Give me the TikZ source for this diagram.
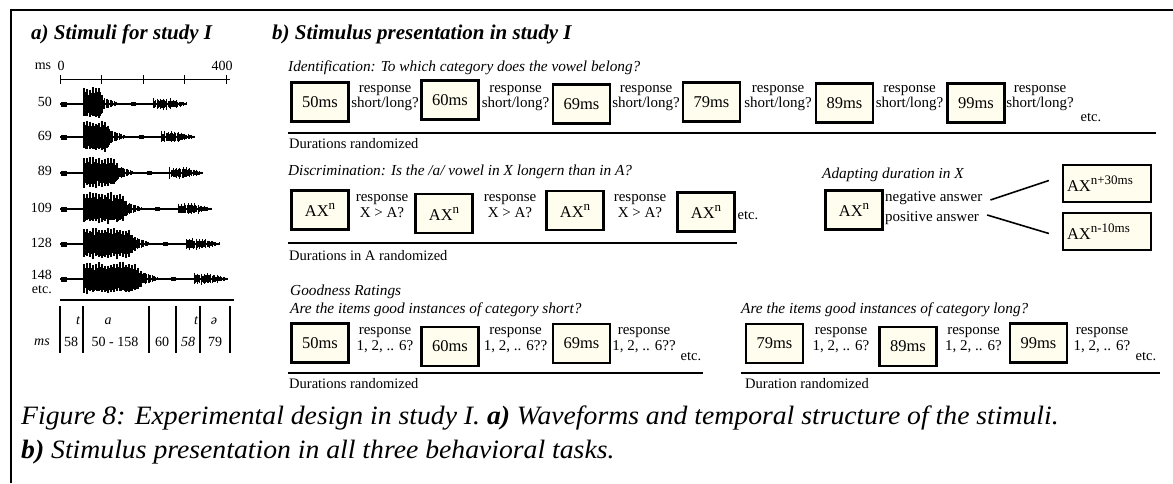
\documentclass[tikz,border=0pt]{standalone}
\usepackage{fontspec}
\setmainfont{Liberation Serif}
\newfontfamily\capfont{Liberation Serif}
\newcommand\fsize[1]{\fontsize{#1}{#1}\selectfont}
\newcommand\supr[1]{\raisebox{0.42em}{\fontsize{13}{13}\selectfont #1}}
\definecolor{boxfill}{RGB}{255,253,238}
\newcommand\wave[2]{%
  \pgfmathsetmacro\wxb{84+0.415*#2}%
  \pgfmathsetmacro\wxt{60+0.415*(118+#2)}%
  \pgfmathsetmacro\wxs{\wxt+24}%
  \pgfmathsetmacro\wxe{\wxs+33}%
  \draw[line width=1.2pt] (60,#1) -- (\wxe,#1);
  \draw[line width=2.8pt] (60,#1) -- (84,#1);
  \draw[line width=5pt] (61,#1) -- (67,#1);
  \draw[line width=2.6pt] (\wxt,#1) -- (\wxs,#1);
  \draw[line width=4.5pt] (\wxt+1,#1) -- (\wxt+6,#1);
  \pgfmathtruncatemacro\wnv{0.415*#2/1.0}%
  \foreach \i in {0,...,\wnv}{%
    \pgfmathsetmacro\wx{84+1.0*\i}%
    \pgfmathsetmacro\wt{\i/\wnv}%
    \pgfmathsetmacro\wenv{\wt<0.82 ? 1 : 0.3+0.7*(1-\wt)/0.18}%
    \pgfmathsetmacro\wspk{mod(\i,3)==0 ? 1 : 0}%
    \pgfmathsetmacro\wu{\wenv*(\wspk*(13+4*rnd)+(1-\wspk)*(8+4*rnd))}%
    \pgfmathsetmacro\wd{\wenv*(\wspk*(11+4*rnd)+(1-\wspk)*(8+4*rnd))}%
    \draw[line width=1.05pt] (\wx,#1-\wu) -- (\wx,#1+\wd);
  }
  \foreach \j in {0,...,10}{%
    \pgfmathsetmacro\wx{\wxb+1.3*\j}%
    \pgfmathsetmacro\wa{5*(1-\j/11)+0.8}%
    \draw[line width=0.7pt] (\wx,#1-\wa) -- (\wx,#1+0.8*\wa);
  }
  \foreach \i in {0,...,30}{%
    \pgfmathsetmacro\wx{\wxs+1.1*\i}%
    \pgfmathsetmacro\wt{\i/30}%
    \pgfmathsetmacro\wenv{\wt<0.45 ? 1 : max(0.25,1-(\wt-0.45)/0.55*0.75)}%
    \pgfmathsetmacro\wspk{mod(\i,3)==0 ? 1 : 0}%
    \pgfmathsetmacro\wu{\wenv*(\wspk*(4.5+2*rnd)+(1-\wspk)*(3+1.5*rnd))}%
    \pgfmathsetmacro\wd{\wenv*(\wspk*(4+2*rnd)+(1-\wspk)*(3+1.5*rnd))}%
    \draw[line width=0.85pt] (\wx,#1-\wu) -- (\wx,#1+\wd);
  }
}
\tikzset{
  stim/.style={draw=black, line width=2.2pt, fill=boxfill, minimum width=57pt,
    minimum height=39pt, inner sep=0pt, font=\fsize{16.5}},
  wide/.style={stim, minimum width=88pt, minimum height=37pt, inner xsep=4pt,
    text width=80pt, align=left},
  resp/.style={align=center, font=\fontsize{15}{15.5}\selectfont, inner sep=0pt},
  lab/.style={font=\fsize{14}, inner sep=0pt},
  small/.style={font=\fsize{14.5}, inner sep=0pt},
  hdr/.style={font=\fsize{15.3}\itshape, inner sep=0pt},
  ttl/.style={font=\fsize{21}\bfseries\itshape, inner sep=0pt},
  sepline/.style={line width=1.6pt},
  conn/.style={line width=1.6pt},
  axisline/.style={line width=1pt},
  captxt/.style={font=\capfont\fsize{26.5}\itshape, inner sep=0pt},
}
\begin{document}
\begin{tikzpicture}[x=1pt,y=-1pt]
\useasboundingbox (0,0) rectangle (1173,483);
\pgfmathsetseed{7}
\draw[line width=1.8pt] (11,483) -- (11,10) -- (1173,10);

% ---------------- panel a
\node[ttl, anchor=west] (ta) at (31,34) {a) Stimuli for study I};
\node[lab] (msax) at (43,66) {ms};
\node[lab] (zero) at (61,66) {0};
\node[lab] (fourh) at (222,66) {400};
\draw[axisline] (60,79) -- (230,79);
\foreach \x in {60,101.5,143,184.5,226} \draw[axisline] (\x,75) -- (\x,84);

\wave{104}{50}
\wave{137}{69}
\wave{173}{89}
\wave{209}{109}
\wave{244}{128}
\wave{279}{148}
\node[lab, anchor=east] (l1) at (52,102) {50};
\node[lab, anchor=east] (l2) at (52,136) {69};
\node[lab, anchor=east] (l3) at (52,171) {89};
\node[lab, anchor=east] (l4) at (52,208) {109};
\node[lab, anchor=east] (l5) at (52,243) {128};
\node[lab, anchor=east] (l6) at (52,275) {148};
\node[lab, anchor=east] (l7) at (52,289.5) {etc.};

\draw[line width=1.2pt] (60,300) -- (234,300);
\foreach \x in {60,83,149,176,200,230} \draw[line width=1.1pt] (\x,306) -- (\x,353);
\node[lab, font=\fsize{14}\itshape] (s1) at (78,321) {t};
\node[lab, font=\fsize{14}\itshape] (s2) at (108,321) {a};
\node[lab, font=\fsize{14}\itshape] (s3) at (196,321) {t};
\node[lab, font=\fsize{14}\itshape] (s4) at (214,321) {ə};
\node[lab, font=\fsize{14}\itshape] (m0) at (42,342) {ms};
\node[lab] (m1) at (71,342) {58};
\node[lab] (m2) at (115,342) {50 - 158};
\node[lab] (m3) at (162,342) {60};
\node[lab, font=\fsize{14}\itshape] (m4) at (188,342) {58};
\node[lab] (m5) at (215,342) {79};

% ---------------- panel b
\node[ttl, anchor=west] (tb) at (272,34) {b) Stimulus presentation in study I};

% identification
\node[hdr, anchor=west] (h1) at (288,68) {Identification: To which category does the vowel belong?};
\node[stim] (i1) at (320,102) {50ms};
\node[stim] (i2) at (450,100) {60ms};
\node[stim] (i3) at (581.5,104) {69ms};
\node[stim] (i4) at (711.5,102) {79ms};
\node[stim] (i5) at (844.5,103) {89ms};
\node[stim] (i6) at (976,103) {99ms};
\node[resp] (r1) at (385,98) {response\\short/long?};
\node[resp] (r2) at (515.5,98) {response\\short/long?};
\node[resp] (r3) at (646,98) {response\\short/long?};
\node[resp] (r4) at (778,98) {response\\short/long?};
\node[resp] (r5) at (909.5,98) {response\\short/long?};
\node[resp] (r6) at (1040,98) {response\\short/long?};
\node[small] (e1) at (1091,118) {etc.};
\draw[sepline] (288,133) -- (1156,133);
\node[small, anchor=west] (d1) at (289,144) {Durations randomized};

% discrimination
\node[hdr, anchor=west] (h2) at (288,172) {Discrimination: Is the /a/ vowel in X longern than in A?};
\node[stim] (x1) at (320,210) {AX\supr{n}};
\node[stim] (x2) at (444,213.5) {AX\supr{n}};
\node[stim] (x3) at (575,210.5) {AX\supr{n}};
\node[stim] (x4) at (706,212) {AX\supr{n}};
\node[resp] (q1) at (382,206) {response\\X > A?};
\node[resp] (q2) at (510,206) {response\\X > A?};
\node[resp] (q3) at (640,206) {response\\X > A?};
\node[small] (e2) at (748,216) {etc.};
\draw[sepline] (288,243) -- (737,243);
\node[small, anchor=west] (d2) at (289,256) {Durations in A randomized};

% adapting
\node[hdr, anchor=west] (h3) at (822,175) {Adapting duration in X};
\node[stim] (ad) at (854,210) {AX\supr{n}};
\node[resp, anchor=west] (neg) at (885,198) {negative answer};
\node[resp, anchor=west] (pos) at (885,218) {positive answer};
\node[wide] (p30) at (1107,183.5) {AX\supr{n+30ms}};
\node[wide] (m10) at (1107,231.5) {AX\supr{n-10ms}};
\draw[conn] ([xshift=8pt,yshift=-2pt]neg.east) -- ([xshift=-13pt,yshift=3pt]p30.west);
\draw[conn] ([xshift=8pt,yshift=3pt]pos.east) -- ([xshift=-13pt,yshift=-2pt]m10.west);

% goodness short
\node[hdr, anchor=west] (h4) at (290,292) {Goodness Ratings};
\node[hdr, anchor=west] (h5) at (290,310) {Are the items good instances of category short?};
\node[stim] (g1) at (320,343) {50ms};
\node[stim] (g2) at (450,346.5) {60ms};
\node[stim] (g3) at (581.5,343.5) {69ms};
\node[resp] (gr1) at (385,340) {response\\1, 2, .. 6?};
\node[resp] (gr2) at (515.5,340) {response\\1, 2, .. 6??};
\node[resp] (gr3) at (644,340) {response\\1, 2, .. 6??};
\node[small] (e3) at (691,357) {etc.};
\draw[sepline] (288,373) -- (703,373);
\node[small, anchor=west] (d3) at (289,384) {Durations randomized};

% goodness long
\node[hdr, anchor=west] (h6) at (741,310) {Are the items good instances of category long?};
\node[stim] (k1) at (774.5,343.5) {79ms};
\node[stim] (k2) at (908,346.5) {89ms};
\node[stim] (k3) at (1038.5,343) {99ms};
\node[resp] (kr1) at (841,340) {response\\1, 2, .. 6?};
\node[resp] (kr2) at (973.5,340) {response\\1, 2, .. 6?};
\node[resp] (kr3) at (1102,340) {response\\1, 2, .. 6?};
\node[small] (e4) at (1146,357) {etc.};
\draw[sepline] (741,373) -- (1160,373);
\node[small, anchor=west] (d4) at (745,384) {Duration randomized};

% caption
\node[captxt, anchor=west] (c1) at (21,418) {\scalebox{1.045}[1]{Figure 8: Experimental design in study I. \textbf{a)} Waveforms and temporal structure of the stimuli.}};
\node[captxt, anchor=west] (c2) at (21,452) {\scalebox{1.045}[1]{\textbf{b)} Stimulus presentation in all three behavioral tasks.}};
\end{tikzpicture}
\end{document}
